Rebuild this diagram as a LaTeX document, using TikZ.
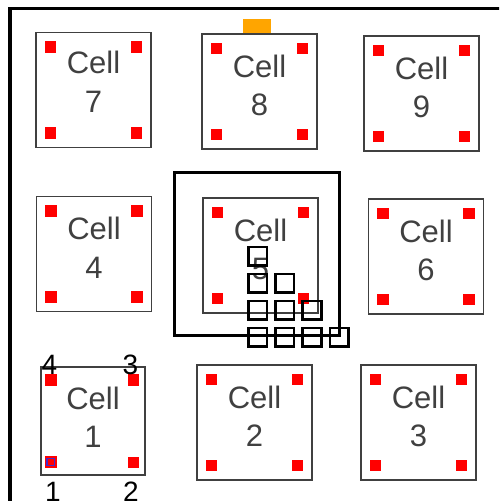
\documentclass[tikz,border=0pt]{standalone}
\usepackage{fontspec}
\setmainfont{Liberation Sans}
\usetikzlibrary{calc}
\definecolor{cellgray}{RGB}{64,64,64}
\definecolor{marker}{RGB}{255,0,0}
\definecolor{orng}{RGB}{255,165,0}
\definecolor{bluemark}{RGB}{70,40,200}
\begin{document}
\begin{tikzpicture}[x=1pt,y=-1pt,
  cellbox/.style={draw=cellgray, line width=1.6pt, fill=white, inner sep=0,
    minimum width=115pt, minimum height=115pt},
  celltext/.style={align=center, text=cellgray, inner sep=0,
    font=\fontsize{31}{38.5}\selectfont},
  mk/.style={fill=marker, draw=none, minimum size=11.5pt, inner sep=0},
  stairbox/.style={draw=black, line width=2.6pt, minimum size=18.5pt, inner sep=0},
  numlbl/.style={inner sep=0, text=black, font=\fontsize{28}{34}\selectfont}]
\useasboundingbox (0,0) rectangle (499,501);
\clip (0,0) rectangle (499,501);
\fill[white] (0,0) rectangle (499,501);
% outer frame
\draw[line width=3.5pt] (10,520) -- (10,8.5) -- (520,8.5);
% orange tag
\node[fill=orng, minimum width=28pt, minimum height=14pt, inner sep=0] (tag) at (257,26) {};
% cells
\node[cellbox] (c7) at (93.5,90) {};
\node[cellbox] (c8) at (259.5,91.5) {};
\node[cellbox] (c9) at (421.5,93.5) {};
\node[cellbox] (c4) at (94,254) {};
\node[cellbox] (c5) at (260.5,255.5) {};
\node[cellbox] (c6) at (426,256.5) {};
\node[cellbox, minimum width=104pt, minimum height=108pt] (c1) at (93,421) {};
\node[cellbox] (c2) at (254.5,422.5) {};
\node[cellbox] (c3) at (418.5,422.5) {};
% markers
\foreach \c in {c7,c8,c9,c4,c5,c6,c2,c3} {
  \node[mk] (\c-m1) at ($(\c.north west)+(15.5,15.5)$) {};
  \node[mk] (\c-m2) at ($(\c.north east)+(-15.5,15.5)$) {};
  \node[mk] (\c-m3) at ($(\c.south west)+(15.5,-15.5)$) {};
  \node[mk] (\c-m4) at ($(\c.south east)+(-15.5,-15.5)$) {};
}
\node[mk] (c1-m1) at (51,380) {};
\node[mk] (c1-m2) at (133.5,380) {};
\node[mk] (c1-m3) at (51,462) {};
\node[mk] (c1-m4) at (133.5,462.5) {};
\node[draw=bluemark, line width=1.3pt, minimum width=7.2pt, minimum height=7.2pt, inner sep=0] (c1-sel) at (50.7,461.8) {};
% cell texts
\node[celltext] (t7) at ($(c7.center)+(0,-8)$) {Cell\\7};
\node[celltext] (t8) at ($(c8.center)+(0,-6)$) {Cell\\8};
\node[celltext] (t9) at ($(c9.center)+(0,-6)$) {Cell\\9};
\node[celltext] (t4) at ($(c4.center)+(0,-6)$) {Cell\\4};
\node[celltext] (t5) at ($(c5.center)+(0,-6)$) {Cell\\5};
\node[celltext] (t6) at ($(c6.center)+(0,-6)$) {Cell\\6};
\node[celltext] (t1) at ($(c1.center)+(0,-3.5)$) {Cell\\1};
\node[celltext] (t2) at ($(c2.center)+(0,-6)$) {Cell\\2};
\node[celltext] (t3) at ($(c3.center)+(0,-6)$) {Cell\\3};
% big square around cell 5
\node[draw=black, line width=3pt, minimum width=165pt, minimum height=163pt, inner sep=0] (sel5) at (257,254) {};
% staircase
\foreach \r in {0,...,3} {
  \foreach \k in {0,...,\r} {
    \node[stairbox] (s\r\k) at ({257.8+27.1*\k},{256.2+27*\r}) {};
  }
}
% corner numbers of cell 1
\node[numlbl] (n4) at (49.5,365) {4};
\node[numlbl] (n3) at (130.5,365) {3};
\node[numlbl] (n1) at (53,491.5) {1};
\node[numlbl] (n2) at (131,491.5) {2};
\end{tikzpicture}
\end{document}
